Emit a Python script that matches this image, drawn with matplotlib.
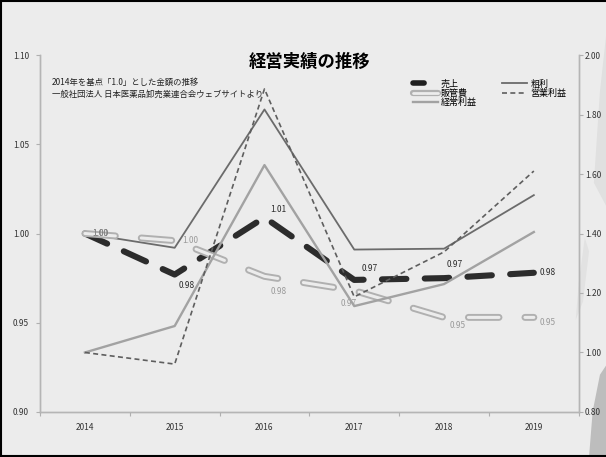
import matplotlib.pyplot as plt
from matplotlib import patheffects as pe
from matplotlib.lines import Line2D
from matplotlib.patches import Polygon
from matplotlib.ticker import FormatStrFormatter

plt.rcParams['font.family'] = ['Noto Sans CJK JP', 'DejaVu Sans']

years = ['2014', '2015', '2016', '2017', '2018', '2019']

# left axis (index, 2014 = 1.0)
sales = [1.000, 0.977, 1.009, 0.974, 0.975, 0.978]
sga = [1.000, 0.996, 0.976, 0.968, 0.953, 0.953]
gross = [1.000, 0.992, 1.0695, 0.991, 0.9915, 1.0215]
# right axis
ordinary = [1.000, 1.089, 1.630, 1.156, 1.230, 1.405]
operating = [1.000, 0.961, 1.886, 1.187, 1.338, 1.610]

BG = '#ececec'

# label offsets in points (dx, dy)
sales_off = [(11, 0), (9, -8), (10, 6), (11, 8), (8, 10), (10, 0)]
sga_off = [(11, 0), (11, 0), (10, -11), (-4, -9), (10, -6), (10, -4)]

fig = plt.figure(figsize=(6.06, 4.57), dpi=100, facecolor=BG)

# faint brush texture along the right edge
for pts, c in (
    ([(0.972, 0.0), (1.0, 0.0), (1.0, 0.2), (0.99, 0.18), (0.978, 0.1)], '#bdbdbd'),
    ([(0.95, 0.3), (0.962, 0.34), (0.972, 0.45), (0.965, 0.48), (0.955, 0.38)], '#e2e2e2'),
    ([(0.98, 0.6), (1.0, 0.55), (1.0, 0.92), (0.99, 0.8)], '#e0e0e0'),
):
    fig.add_artist(Polygon(pts, closed=True, facecolor=c, edgecolor='none',
                           transform=fig.transFigure, zorder=0))

ax = fig.add_axes([0.066, 0.0985, 0.889, 0.7811])
ax.patch.set_alpha(0)
ax2 = ax.twinx()

x = list(range(len(years)))

ax.plot(x, gross, color='#6b6b6b', lw=1.3, zorder=3)
ax.plot(x, sales, color='#2c2c2c', lw=4.4, dashes=(4, 3), zorder=4,
        solid_capstyle='round', dash_capstyle='round')
ax.plot(x, sga, color=BG, lw=2.2, dashes=(10, 8.5), zorder=4,
        dash_capstyle='round',
        path_effects=[pe.Stroke(linewidth=5, foreground='#b0b0b0'), pe.Normal()])

ax2.plot(x, ordinary, color='#a2a2a2', lw=1.7)
ax2.plot(x, operating, color='#5e5e5e', lw=1.2, dashes=(3, 2))

for i, v in enumerate(sales):
    ax.annotate(f'{v:.2f}', (i, v), xytext=sales_off[i], textcoords='offset points',
                fontsize=6, color='#2a2a2a', ha='center', va='center', zorder=6)
for i, v in enumerate(sga):
    ax.annotate(f'{v:.2f}', (i, v), xytext=sga_off[i], textcoords='offset points',
                fontsize=6, color='#9a9a9a', ha='center', va='center', zorder=6)

ax.set_xlim(-0.5, 5.5)
ax.set_ylim(0.90, 1.10)
ax.set_yticks([0.90, 0.95, 1.00, 1.05, 1.10])
ax.yaxis.set_major_formatter(FormatStrFormatter('%.2f'))
ax2.set_ylim(0.80, 2.00)
ax2.set_yticks([0.80, 1.00, 1.20, 1.40, 1.60, 1.80, 2.00])
ax2.yaxis.set_major_formatter(FormatStrFormatter('%.2f'))

ax.set_xticks([i - 0.5 for i in range(len(years) + 1)])
ax.set_xticklabels([])
ax.set_xticks(x, minor=True)
ax.set_xticklabels(years, minor=True)
ax.tick_params(axis='x', which='major', length=3, color='#b0b0b0')
ax.tick_params(axis='x', which='minor', length=0, labelsize=6, pad=8, labelcolor='#333333')
ax.tick_params(axis='y', length=3, color='#b0b0b0', labelsize=6, pad=5, labelcolor='#333333')
ax2.tick_params(axis='y', length=3, color='#b0b0b0', labelsize=6, pad=1.5, labelcolor='#333333')

for a in (ax, ax2):
    a.spines['top'].set_visible(False)
    for s in ('left', 'right', 'bottom'):
        a.spines[s].set_color('#b5b5b5')
        a.spines[s].set_linewidth(1.0)

fig.text(0.51, 0.864, '経営実績の推移', ha='center', va='center',
         fontsize=12.5, fontweight='bold', color='black')
fig.text(0.086, 0.820, '2014年を基点「1.0」とした金額の推移', fontsize=6, color='#222222', va='center')
fig.text(0.086, 0.794, '一般社団法人 日本医薬品卸売業連合会ウェブサイトより', fontsize=6, color='#222222', va='center')

handles = [
    Line2D([], [], color='#202020', lw=4, dash_capstyle='round', dashes=(2.0, 10)),
    Line2D([], [], color=BG, lw=2, solid_capstyle='round',
           path_effects=[pe.Stroke(linewidth=4.5, foreground='#b0b0b0'), pe.Normal()]),
    Line2D([], [], color='#a2a2a2', lw=1.7),
    Line2D([], [], color='#6b6b6b', lw=1.3),
    Line2D([], [], color='#5e5e5e', lw=1.2, dashes=(3, 2)),
]
labels = ['売上', '販管費', '経常利益', '粗利', '営業利益']
fig.legend(handles, labels, ncol=2, loc='upper left', bbox_to_anchor=(0.674, 0.836),
           frameon=False, fontsize=6.5, handlelength=2.8, handletextpad=0.3,
           columnspacing=2.8, labelspacing=0.0, borderpad=0)

# figure frame on left, top and bottom
for xs, ys in (([0.001, 0.001], [0, 1]), ([0, 1], [0.998, 0.998]), ([0, 1], [0.002, 0.002])):
    fig.add_artist(Line2D(xs, ys, color='black', lw=1.5, transform=fig.transFigure))

fig.savefig('out.png', dpi=100, facecolor=BG)
